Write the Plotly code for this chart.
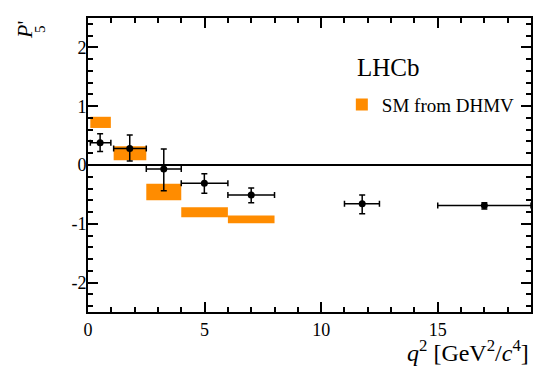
import plotly.graph_objects as go

# LHCb data points
q2_center = [0.52, 1.79, 3.25, 4.99, 7.00, 11.76, 17.0]
q2_lo = [0.10, 1.10, 2.50, 4.00, 6.00, 11.00, 15.00]
q2_hi = [0.98, 2.50, 4.00, 6.00, 8.00, 12.50, 19.00]
p5 = [0.38, 0.28, -0.07, -0.31, -0.51, -0.66, -0.69]
p5_err_up = [0.15, 0.23, 0.34, 0.16, 0.12, 0.15, 0.05]
p5_err_dn = [0.15, 0.21, 0.37, 0.17, 0.13, 0.17, 0.06]

# SM prediction (DHMV) boxes
sm_lo_q2 = [0.10, 1.10, 2.50, 4.00, 6.00]
sm_hi_q2 = [0.98, 2.50, 4.00, 6.00, 8.00]
sm_low = [0.63, 0.08, -0.60, -0.89, -0.99]
sm_high = [0.82, 0.32, -0.32, -0.72, -0.86]

FONT = "Liberation Serif"
ORANGE = "#FF8C00"

fig = go.Figure()

fig.add_trace(go.Bar(
    x=[(a + b) / 2 for a, b in zip(sm_lo_q2, sm_hi_q2)],
    width=[b - a for a, b in zip(sm_lo_q2, sm_hi_q2)],
    base=sm_low,
    y=[h - l for l, h in zip(sm_low, sm_high)],
    marker=dict(color=ORANGE, line=dict(width=0)),
    name="SM from DHMV",
    showlegend=True,
))

fig.add_trace(go.Scatter(
    x=q2_center, y=p5, mode="markers",
    marker=dict(color="black", size=7),
    error_x=dict(type="data", symmetric=False,
                 array=[h - c for h, c in zip(q2_hi, q2_center)],
                 arrayminus=[c - l for l, c in zip(q2_lo, q2_center)],
                 color="black", thickness=1.5, width=3),
    error_y=dict(type="data", symmetric=False,
                 array=p5_err_up, arrayminus=p5_err_dn,
                 color="black", thickness=1.5, width=3),
    showlegend=False, name="LHCb",
))

axis_common = dict(
    showline=True, linecolor="black", linewidth=2, mirror="ticks",
    ticks="inside", ticklen=10, tickwidth=2, tickcolor="black",
    showgrid=False, automargin=False,
    tickfont=dict(family=FONT, size=18, color="black"),
)

fig.update_xaxes(
    range=[0, 19], tickvals=[0, 5, 10, 15], zeroline=False,
    minor=dict(ticks="inside", ticklen=5, tickwidth=1.5, dtick=1, tick0=0, tickcolor="black"),
    **axis_common,
)
fig.update_yaxes(
    range=[-2.5, 2.5], tickvals=[-2, -1, 0, 1, 2],
    ticktext=["-2", "-1", "0", "1", "2"],
    zeroline=True, zerolinecolor="black", zerolinewidth=2,
    ticklabelstandoff=-4,
    minor=dict(ticks="inside", ticklen=5, tickwidth=1.5, dtick=0.2, tick0=0, tickcolor="black"),
    **axis_common,
)

fig.add_annotation(
    text="<i>q</i><sup>2</sup> [GeV<sup>2</sup>/<i>c</i><sup>4</sup>]",
    xref="paper", yref="paper", x=1.0, y=0, xanchor="right", yanchor="top",
    yshift=-22, showarrow=False,
    font=dict(family=FONT, size=24, color="black"),
)
# y-axis title P'_5 (prime and subscript stacked, as in ROOT)
fig.add_annotation(
    text="<i>P</i>'",
    xref="paper", yref="paper", x=0, y=1.0, xanchor="center", yanchor="middle",
    xshift=-64, yshift=-12, textangle=-90, showarrow=False,
    font=dict(family=FONT, size=22, color="black"),
)
fig.add_annotation(
    text="5",
    xref="paper", yref="paper", x=0, y=1.0, xanchor="center", yanchor="middle",
    xshift=-48, yshift=-11, textangle=-90, showarrow=False,
    font=dict(family=FONT, size=15, color="black"),
)
fig.add_annotation(
    text="LHCb", xref="paper", yref="paper", x=0.603, y=0.83,
    xanchor="left", yanchor="middle", showarrow=False,
    font=dict(family=FONT, size=25, color="black"),
)

fig.update_layout(
    template="none",
    width=545, height=386,
    margin=dict(l=88, r=14, t=18, b=74, autoexpand=False),
    paper_bgcolor="white", plot_bgcolor="white",
    font=dict(family=FONT, color="black"),
    legend=dict(x=0.573, y=0.705, xanchor="left", yanchor="middle",
                bgcolor="rgba(0,0,0,0)", itemwidth=30,
                font=dict(family=FONT, size=19, color="black")),
    showlegend=True,
    barmode="overlay",
)

fig.write_html("out.html", config={"displayModeBar": False},
               post_script="document.body.style.margin='0';")
